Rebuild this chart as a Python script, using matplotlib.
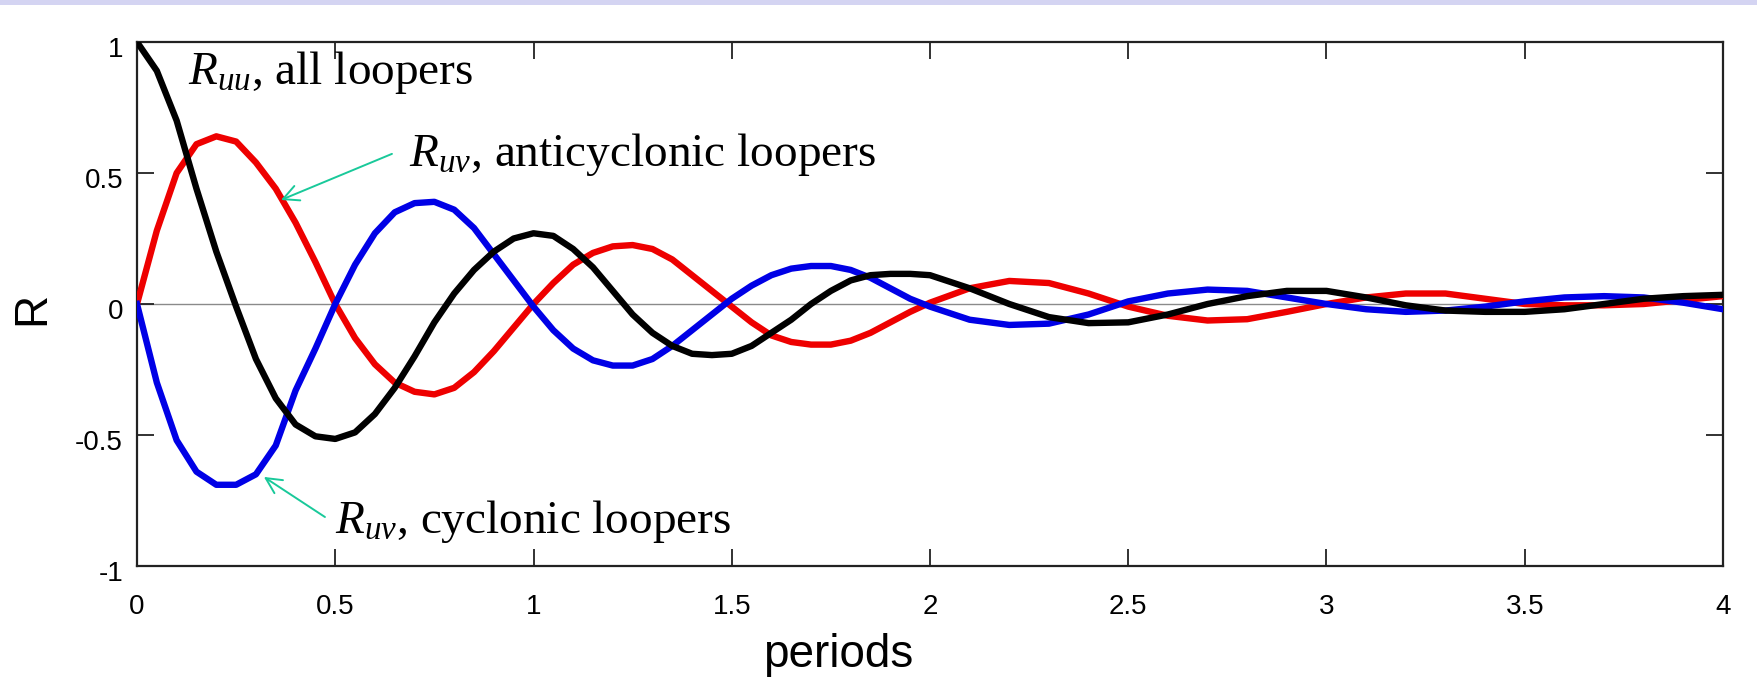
import matplotlib
matplotlib.use("Agg")
import matplotlib.pyplot as plt
from matplotlib.patches import Rectangle
import matplotlib.transforms as mtransforms

# lag in periods and correlation values
periods_fine = [0.0, 0.05, 0.1, 0.15, 0.2, 0.25, 0.3, 0.35, 0.4, 0.45, 0.5,
                0.55, 0.6, 0.65, 0.7, 0.75, 0.8, 0.85, 0.9, 0.95, 1.0,
                1.05, 1.1, 1.15, 1.2, 1.25, 1.3, 1.35, 1.4, 1.45, 1.5,
                1.55, 1.6, 1.65, 1.7, 1.75, 1.8, 1.85, 1.9, 1.95, 2.0]
periods_coarse = [2.1, 2.2, 2.3, 2.4, 2.5, 2.6, 2.7, 2.8, 2.9, 3.0,
                  3.1, 3.2, 3.3, 3.4, 3.5, 3.6, 3.7, 3.8, 3.9, 4.0]
periods = periods_fine + periods_coarse

r_uu_all = [1.0, 0.89, 0.70, 0.44, 0.20, -0.01, -0.21, -0.36, -0.46, -0.505, -0.515,
            -0.49, -0.42, -0.32, -0.20, -0.07, 0.04, 0.13, 0.20, 0.25, 0.27,
            0.26, 0.21, 0.14, 0.05, -0.04, -0.11, -0.16, -0.19, -0.195, -0.19,
            -0.16, -0.11, -0.06, 0.0, 0.05, 0.09, 0.11, 0.115, 0.115, 0.11,
            0.06, 0.0, -0.05, -0.073, -0.07, -0.04, 0.0, 0.03, 0.05, 0.05,
            0.025, -0.005, -0.025, -0.03, -0.03, -0.02, 0.0, 0.02, 0.03, 0.035]

r_uv_anticyclonic = [0.0, 0.28, 0.50, 0.61, 0.64, 0.62, 0.54, 0.44, 0.31, 0.16, 0.0,
                     -0.13, -0.23, -0.30, -0.335, -0.345, -0.32, -0.26, -0.18, -0.09, 0.0,
                     0.08, 0.15, 0.195, 0.22, 0.225, 0.21, 0.17, 0.11, 0.05, -0.01,
                     -0.07, -0.12, -0.145, -0.155, -0.155, -0.14, -0.11, -0.07, -0.03, 0.005,
                     0.06, 0.088, 0.08, 0.04, -0.01, -0.045, -0.063, -0.058, -0.03, 0.0,
                     0.025, 0.04, 0.04, 0.02, 0.0, -0.005, -0.005, 0.0, 0.015, 0.03]

r_uv_cyclonic = [0.0, -0.30, -0.52, -0.64, -0.69, -0.69, -0.65, -0.54, -0.33, -0.17, 0.0,
                 0.15, 0.27, 0.35, 0.385, 0.39, 0.36, 0.29, 0.19, 0.09, -0.01,
                 -0.10, -0.17, -0.215, -0.235, -0.235, -0.21, -0.16, -0.10, -0.04, 0.02,
                 0.07, 0.11, 0.135, 0.145, 0.145, 0.13, 0.10, 0.06, 0.02, -0.01,
                 -0.06, -0.08, -0.075, -0.04, 0.01, 0.04, 0.055, 0.05, 0.025, 0.0,
                 -0.02, -0.03, -0.025, -0.01, 0.01, 0.025, 0.03, 0.025, 0.005, -0.02]

x_ticks = [0, 0.5, 1, 1.5, 2, 2.5, 3, 3.5, 4]
x_tick_labels = ["0", "0.5", "1", "1.5", "2", "2.5", "3", "3.5", "4"]
y_ticks = [-1, -0.5, 0, 0.5, 1]
y_tick_labels = ["-1", "-0.5", "0", "0.5", "1"]

plt.rcParams["font.family"] = ["Liberation Sans", "DejaVu Sans"]
plt.rcParams["mathtext.fontset"] = "custom"
plt.rcParams["mathtext.rm"] = "Liberation Serif"
plt.rcParams["mathtext.it"] = "Liberation Serif:italic"

W, H = 1758, 689
fig = plt.figure(figsize=(W / 100, H / 100), dpi=100)
fig.patch.set_facecolor("white")

# thin lavender band across the top edge
fig.patches.append(Rectangle((0, 1 - 5 / H), 1, 5 / H, transform=fig.transFigure,
                             facecolor="#D4D4F2", edgecolor="none", zorder=0))

left, right, top, bottom = 137, 1723, 42, 566
ax = fig.add_axes([left / W, 1 - bottom / H, (right - left) / W, (bottom - top) / H])

ax.axhline(0, color="#8a8a8a", lw=1.0, zorder=1)
ax.plot(periods, r_uv_anticyclonic, color="#EE0000", lw=4.6, zorder=3,
        solid_joinstyle="round")
ax.plot(periods, r_uv_cyclonic, color="#0000E6", lw=4.6, zorder=3,
        solid_joinstyle="round")
ax.plot(periods, r_uu_all, color="black", lw=4.6, zorder=4, solid_joinstyle="round")

ax.set_xlim(0, 4)
ax.set_ylim(-1, 1)
ax.set_xticks(x_ticks)
ax.set_xticklabels(x_tick_labels)
ax.set_yticks(y_ticks)
ax.set_yticklabels(y_tick_labels)
ax.tick_params(direction="in", length=12, width=1.3, color="#222222",
               top=True, right=True, labelsize=20)
ax.tick_params(axis="x", pad=20)
ax.tick_params(axis="y", pad=10)
for lab in ax.get_yticklabels():
    lab.set_transform(lab.get_transform() +
                      mtransforms.ScaledTranslation(0, -5 / 100, fig.dpi_scale_trans))
for sp in ax.spines.values():
    sp.set_linewidth(1.6)
    sp.set_color("#222222")

fig.text(32 / W, 1 - 308 / H, "R", rotation=90, ha="center", va="center", fontsize=33)
fig.text(838 / W, 1 - 667 / H, "periods", ha="center", va="baseline", fontsize=33)

serif = {"family": "Liberation Serif", "size": 34}
green = "#19C99A"

ax.text(0.129, 0.84, r"$R_{uu}$, all loopers", fontdict=serif, va="baseline", zorder=5)

ax.annotate("", xy=(0.363, 0.397), xytext=(0.643, 0.573),
            arrowprops=dict(arrowstyle="->", color=green, lw=1.4, mutation_scale=28,
                            shrinkA=0, shrinkB=0), zorder=5)
ax.text(0.686, 0.527, r"$R_{uv}$, anticyclonic loopers", fontdict=serif, va="baseline", zorder=5)

ax.annotate("", xy=(0.32, -0.66), xytext=(0.474, -0.813),
            arrowprops=dict(arrowstyle="->", color=green, lw=1.4, mutation_scale=28,
                            shrinkA=0, shrinkB=0), zorder=5)
ax.text(0.50, -0.874, r"$R_{uv}$, cyclonic loopers", fontdict=serif, va="baseline", zorder=5)

fig.savefig("out.png", dpi=100, facecolor=fig.get_facecolor())
